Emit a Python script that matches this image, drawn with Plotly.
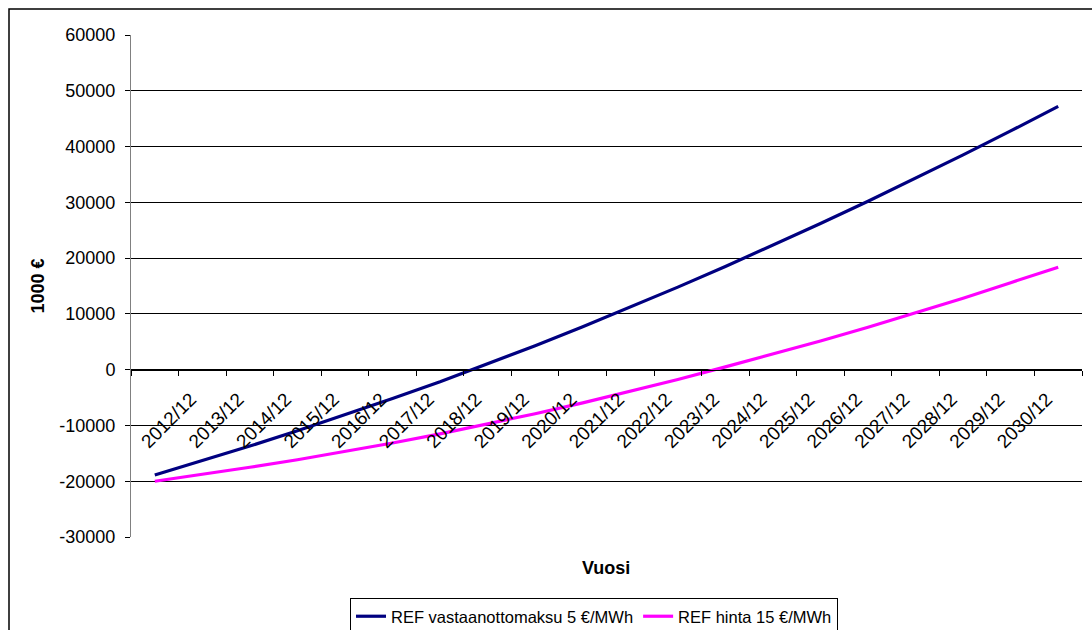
import plotly.graph_objects as go

# Year-end periods on the category axis (last period carries no visible label)
periods = [f"{y}/12" for y in range(2012, 2032)]
tick_labels = [f"{y}/12" for y in range(2012, 2031)] + [""]

# Cumulative result, 1000 €
ref_fee_5 = [-18900, -16350, -13700, -10950, -8100, -5150, -2150, 1000, 4300, 7700,
             11200, 14800, 18500, 22300, 26200, 30200, 34300, 38500, 42800, 47200]
ref_price_15 = [-20000, -18800, -17500, -16150, -14700, -13150, -11500, -9750, -7900, -5950,
                -3900, -1750, 500, 2800, 5150, 7600, 10150, 12800, 15600, 18350]

series_names = ["REF vastaanottomaksu 5 €/MWh", "REF hinta 15 €/MWh"]
series_colors = ["#000080", "#FF00FF"]

y_ticks = list(range(-30000, 60001, 10000))
y_tick_labels = [str(v) for v in y_ticks]

W, H = 1092, 630
ML, MR, MT, MB = 131, 10, 35, 93
PW, PH = W - ML - MR, H - MT - MB


def px_x(p):
    return (p - ML) / PW


def px_y(p):
    return (H - MB - p) / PH


FONT = "Liberation Sans, Arial, sans-serif"

fig = go.Figure()
for name, vals, col in zip(series_names, [ref_fee_5, ref_price_15], series_colors):
    fig.add_trace(go.Scatter(
        x=periods, y=vals, name=name, mode="lines",
        line=dict(color=col, width=3.2),
    ))

fig.update_layout(
    width=W, height=H,
    margin=dict(l=ML, r=MR, t=MT, b=MB, autoexpand=False),
    paper_bgcolor="white", plot_bgcolor="white",
    font=dict(family=FONT, size=18, color="black"),
    showlegend=True,
    legend=dict(
        orientation="h", xref="container", yref="container",
        x=594 / W, xanchor="center",
        y=1 - 598 / H, yanchor="top",
        bordercolor="black", borderwidth=1, bgcolor="white",
        font=dict(size=16.5), itemwidth=30, tracegroupgap=0,
    ),
    xaxis=dict(
        type="category", categoryorder="array", categoryarray=periods,
        range=[-0.5, len(periods) - 0.5],
        anchor="free", position=1 / 3,
        tickmode="array", tickvals=periods, ticktext=tick_labels,
        tickson="boundaries", ticks="outside", ticklen=5, tickcolor="black",
        tickangle=-45, ticklabelshift=36, ticklabelstandoff=10,
        showline=True, linecolor="black", linewidth=1,
        showgrid=False, zeroline=False, automargin=False,
        tickfont=dict(size=19),
    ),
    yaxis=dict(
        range=[-30000, 60000], tickmode="array",
        tickvals=y_ticks, ticktext=y_tick_labels,
        ticks="outside", ticklen=5, tickcolor="black",
        showline=True, linecolor="#808080", linewidth=1,
        showgrid=True, gridcolor="black", gridwidth=1,
        zeroline=False, ticklabelstandoff=6, automargin=False,
        tickfont=dict(size=18),
        title=dict(text="<b>1000 €</b>", font=dict(size=18), standoff=10),
    ),
    shapes=[dict(
        type="rect", xref="paper", yref="paper",
        x0=px_x(9), x1=px_x(1096), y0=px_y(9), y1=px_y(640),
        line=dict(color="black", width=1.5), fillcolor="rgba(0,0,0,0)",
        layer="below",
    )],
    annotations=[dict(
        text="<b>Vuosi</b>", xref="paper", yref="paper",
        x=px_x(606), y=px_y(568), xanchor="center", yanchor="middle",
        showarrow=False, font=dict(size=18),
    )],
)

fig.write_html("out.html")
